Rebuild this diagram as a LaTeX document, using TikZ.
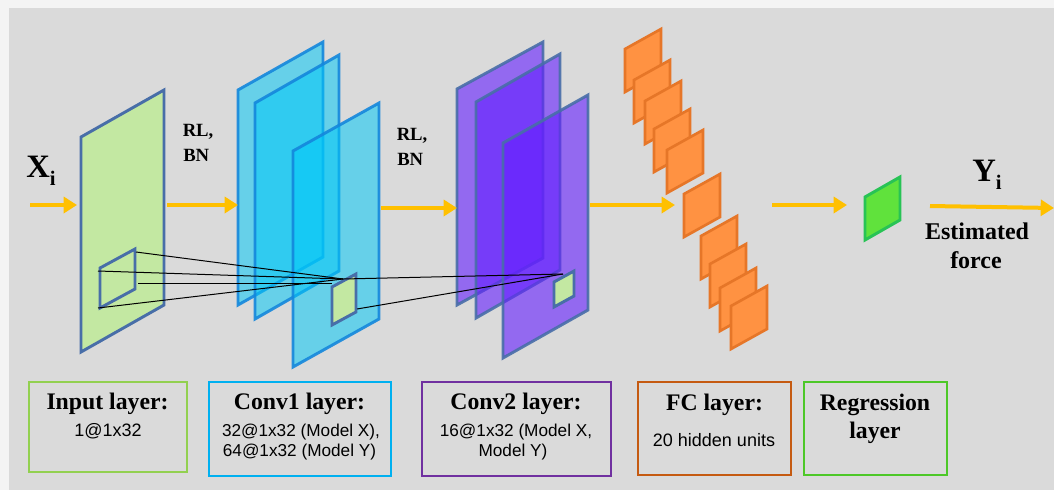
\documentclass[tikz,border=0pt]{standalone}
\usepackage{fontspec}
\setmainfont{Liberation Serif}
\setsansfont{Liberation Sans}
\usetikzlibrary{arrows.meta}

\definecolor{bgout}{RGB}{244,244,244}
\definecolor{bgin}{RGB}{218,218,218}
\definecolor{flow}{RGB}{255,192,0}
\definecolor{steel}{RGB}{72,110,168}
\definecolor{inputfill}{RGB}{195,232,162}
\definecolor{convAfill}{RGB}{0,200,248}
\definecolor{convAedge}{RGB}{20,135,220}
\definecolor{convBfill}{RGB}{100,30,255}
\definecolor{fcfill}{RGB}{255,146,66}
\definecolor{fcedge}{RGB}{230,118,40}
\definecolor{regfill}{RGB}{96,226,60}
\definecolor{regedge}{RGB}{40,195,85}
\definecolor{boxgreen}{RGB}{146,208,80}
\definecolor{boxcyan}{RGB}{0,176,240}
\definecolor{boxpurple}{RGB}{112,48,160}
\definecolor{boxorange}{RGB}{197,90,17}
\definecolor{boxlime}{RGB}{77,200,40}

% skewed sheet: style, left x, top-left y, width, rise, height
\newcommand\skewsheet[6]{%
  \filldraw[#1] (#2,#3) -- ++(#4,-#5) -- ++(0,#6) -- ++(-#4,#5) -- cycle;}

\tikzset{
  flowarrow/.style={draw=flow, line width=3pt,
    -{Triangle[length=10pt,width=12pt]}},
  inputsheet/.style={fill=inputfill, draw=steel, line width=2.2pt, line join=miter},
  convAsheet/.style={fill=convAfill, fill opacity=0.53, draw=convAedge,
    draw opacity=0.9, line width=2.2pt},
  convBsheet/.style={fill=convBfill, fill opacity=0.6, draw=steel,
    draw opacity=0.9, line width=2.2pt},
  patch/.style={fill=inputfill, draw=steel, line width=2.2pt},
  unit/.style={fill=fcfill, draw=fcedge, line width=2pt},
  regunit/.style={fill=regfill, draw=regedge, line width=2.2pt},
  link/.style={draw=black, line width=0.75pt},
  layerbox/.style={draw=#1, line width=2pt, inner sep=0pt},
  title/.style={font=\fontsize{17.8}{20}\selectfont\bfseries, anchor=base, inner sep=0pt},
  detail/.style={font=\sffamily\fontsize{13.5}{15}\selectfont, anchor=base, inner sep=0pt},
  smalldetail/.style={font=\sffamily\fontsize{12.9}{15}\selectfont, anchor=base, inner sep=0pt},
  opname/.style={font=\fontsize{14}{16}\selectfont\bfseries, anchor=base west, inner sep=0pt},
  sym/.style={font=\fontsize{24.5}{26}\selectfont\bfseries, anchor=base west, inner sep=0pt},
  outlabel/.style={font=\fontsize{18}{20}\selectfont\bfseries, anchor=base, inner sep=0pt},
}

\begin{document}
\begin{tikzpicture}[x=0.75pt, y=-0.75pt]
  \useasboundingbox (0,0) rectangle (1054,490);
  \fill[bgout] (0,0) rectangle (1054,490);
  \fill[bgin] (9,8) rectangle (1054,490);

  % input sheet with its receptive patch
  \skewsheet{inputsheet}{81}{137}{83}{47}{215}
  \skewsheet{patch}{100}{268}{35}{19}{40}

  % first convolution: three feature maps
  \skewsheet{convAsheet}{238}{90}{85}{48}{215}
  \skewsheet{convAsheet}{255}{103}{84}{48}{216}
  \skewsheet{convAsheet}{293}{151}{86}{48}{216}
  \skewsheet{patch}{332}{287}{24}{13}{38}

  % second convolution: three feature maps
  \skewsheet{convBsheet}{457}{89}{86}{47}{216}
  \skewsheet{convBsheet}{476}{102}{84}{48}{216}
  \skewsheet{convBsheet}{503}{143}{85}{48}{215}
  \skewsheet{patch}{554}{282}{20}{11}{25}

  % fully connected units
  \foreach \ux/\uy in {625/49, 634/80, 645/101, 654/129, 667/150,
                       684/194, 701/236, 710/264, 720/288, 731/306}
    {\skewsheet{unit}{\ux}{\uy}{36}{20}{43}}

  % regression output unit
  \skewsheet{regunit}{865}{197}{35}{20}{43}

  % receptive-field links
  \coordinate (in-a) at (136,252);
  \coordinate (in-b) at (98,271);
  \coordinate (in-c) at (138,283);
  \coordinate (in-d) at (98,308);
  \coordinate (c1-apex) at (343,279);
  \coordinate (c1-left) at (332,283);
  \coordinate (c1-low) at (357,309);
  \coordinate (c2-apex) at (563,274);
  \draw[link] (in-a) -- (c1-apex);
  \draw[link] (in-b) -- (c1-apex);
  \draw[link] (in-c) -- (c1-left);
  \draw[link] (in-d) -- (c1-apex);
  \draw[link] (c1-apex) -- (c2-apex);
  \draw[link] (c1-low) -- (c2-apex);

  % data flow arrows
  \coordinate (x-src) at (30,205);    \coordinate (in-w) at (77,205);
  \coordinate (in-e) at (167,205);    \coordinate (c1-w) at (238,205);
  \coordinate (c1-e) at (381,208);    \coordinate (c2-w) at (457,208);
  \coordinate (c2-e) at (590,205);    \coordinate (fc-w) at (675,205);
  \coordinate (fc-e) at (772,205);    \coordinate (reg-w) at (847,205);
  \coordinate (reg-e) at (930,206);   \coordinate (y-dst) at (1054,208);
  \draw[flowarrow] (x-src) -- (in-w);
  \draw[flowarrow] (in-e) -- (c1-w);
  \draw[flowarrow] (c1-e) -- (c2-w);
  \draw[flowarrow] (c2-e) -- (fc-w);
  \draw[flowarrow] (fc-e) -- (reg-w);
  \draw[flowarrow] (reg-e) -- (y-dst);

  % symbols and operation labels
  \node[sym] (xi) at (26,177) {X\raisebox{-6pt}{\fontsize{15.5}{16}\selectfont i}};
  \node[sym] (yi) at (972,181) {Y\raisebox{-6pt}{\fontsize{15.5}{16}\selectfont i}};
  \node[opname] (op1a) at (182.5,136) {RL,};
  \node[opname] (op1b) at (183,161) {BN};
  \node[opname] (op2a) at (396.5,140) {RL,};
  \node[opname] (op2b) at (397,165) {BN};
  \node[outlabel] (est1) at (977,239) {Estimated};
  \node[outlabel] (est2) at (976,268) {force};

  % legend boxes
  \node[layerbox=boxgreen, minimum width=118.5pt, minimum height=67.5pt] (b-in) at (108,427) {};
  \node[layerbox=boxcyan, minimum width=136.5pt, minimum height=70.5pt] (b-c1) at (300,429) {};
  \node[layerbox=boxpurple, minimum width=141.75pt, minimum height=70.5pt] (b-c2) at (516.5,429) {};
  \node[layerbox=boxorange, minimum width=114.75pt, minimum height=69.75pt] (b-fc) at (714.5,428.5) {};
  \node[layerbox=boxlime, minimum width=107.25pt, minimum height=69.75pt] (b-reg) at (875.5,428.5) {};

  \node[title] (t-in) at (107.5,409) {Input layer:};
  \node[detail] (d-in) at (108,436) {1@1x32};
  \node[title] (t-c1) at (299.5,409) {Conv1 layer:};
  \node[smalldetail] (d-c1a) at (301,436) {32@1x32 (Model X),};
  \node[smalldetail] (d-c1b) at (299.5,456) {64@1x32 (Model Y)};
  \node[title] (t-c2) at (516,409) {Conv2 layer:};
  \node[smalldetail] (d-c2a) at (516,436) {16@1x32 (Model X,};
  \node[smalldetail] (d-c2b) at (513,456) {Model Y)};
  \node[title] (t-fc) at (714.5,410) {FC layer:};
  \node[detail] (d-fc) at (714,446) {20 hidden units};
  \node[title] (t-reg1) at (875,410) {Regression};
  \node[title] (t-reg2) at (875,438) {layer};
\end{tikzpicture}
\end{document}
